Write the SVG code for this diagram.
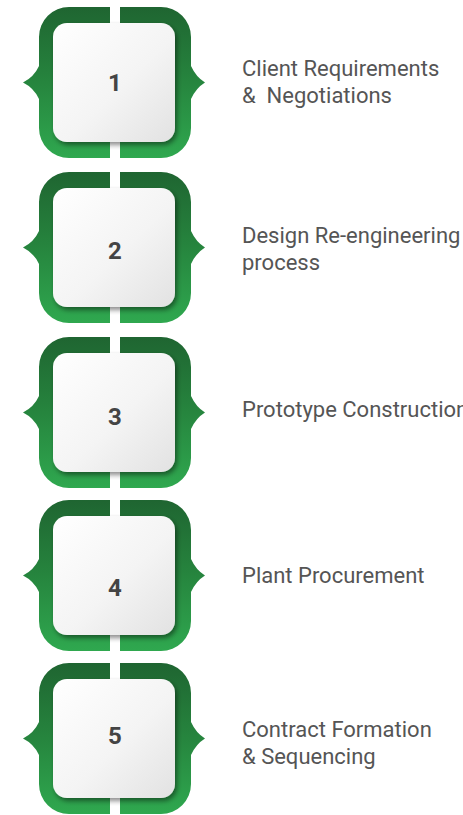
<svg xmlns="http://www.w3.org/2000/svg" xmlns:xlink="http://www.w3.org/1999/xlink" width="463" height="815" viewBox="0 0 463 815">
<style>
.lbl{font-family:Roboto,"Liberation Sans",sans-serif;font-size:22px;fill:#555;white-space:pre}
.num{font-family:Roboto,"Liberation Sans",sans-serif;font-size:24px;font-weight:bold;fill:#444;text-anchor:middle}
</style>
<defs>
<linearGradient id="gFrame" x1="0" y1="0" x2="0" y2="1">
<stop offset="0" stop-color="#1f6531"/>
<stop offset="0.5" stop-color="#26853e"/>
<stop offset="1" stop-color="#2fa84f"/>
</linearGradient>
<linearGradient id="gCard" x1="0" y1="0" x2="1" y2="1">
<stop offset="0" stop-color="#ffffff"/>
<stop offset="0.55" stop-color="#f4f4f4"/>
<stop offset="1" stop-color="#e2e2e2"/>
</linearGradient>
<filter id="shadow" x="-20%" y="-20%" width="140%" height="140%">
<feGaussianBlur in="SourceAlpha" stdDeviation="2.5"/>
<feOffset dx="2" dy="3" result="b"/>
<feComponentTransfer><feFuncA type="linear" slope="0.45"/></feComponentTransfer>
<feMerge><feMergeNode/><feMergeNode in="SourceGraphic"/></feMerge>
</filter>
<g id="badge">
<path fill="url(#gFrame)" d="M69,0 H161 A30,30 0 0 1 191,30 V59 Q196,70 205,75.5 Q196,81 191,92 V121 A30,30 0 0 1 161,151 H69 A30,30 0 0 1 39,121 V92 Q34,81 23,75.5 Q34,70 39,59 V30 A30,30 0 0 1 69,0 Z"/>
<rect x="110" y="-1" width="10" height="19" fill="#ffffff"/>
<rect x="110" y="133" width="10" height="19" fill="#ffffff"/>
<rect x="53" y="16" width="122" height="119" rx="14" fill="url(#gCard)" filter="url(#shadow)"/>
</g>
</defs>
<g id="node1">
<use xlink:href="#badge" transform="translate(0,7)"/>
<text class="num" x="115" y="91">1</text>
<text class="lbl" x="242" y="76">Client Requirements</text>
<text class="lbl" x="242" y="103" xml:space="preserve">&amp;  Negotiations</text>
</g>
<g id="node2">
<use xlink:href="#badge" transform="translate(0,172)"/>
<text class="num" x="115" y="259">2</text>
<text class="lbl" x="242" y="243">Design Re-engineering</text>
<text class="lbl" x="242" y="270">process</text>
</g>
<g id="node3">
<use xlink:href="#badge" transform="translate(0,337)"/>
<text class="num" x="115" y="425">3</text>
<text class="lbl" x="242" y="417">Prototype Construction</text>
</g>
<g id="node4">
<use xlink:href="#badge" transform="translate(0,500)"/>
<text class="num" x="115" y="596">4</text>
<text class="lbl" x="242" y="583">Plant Procurement</text>
</g>
<g id="node5">
<use xlink:href="#badge" transform="translate(0,663)"/>
<text class="num" x="115" y="744">5</text>
<text class="lbl" x="242" y="737">Contract Formation</text>
<text class="lbl" x="242" y="764">&amp; Sequencing</text>
</g>
<g id="connectors"/>
</svg>
